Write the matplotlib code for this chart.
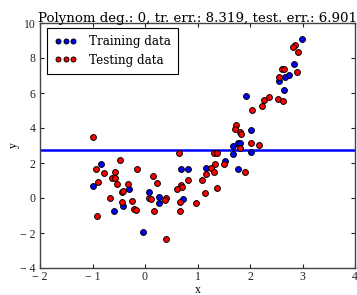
import numpy as np
import matplotlib
matplotlib.use("Agg")
import matplotlib.pyplot as plt

plt.rcParams['font.family'] = ['Liberation Serif', 'DejaVu Serif']

train_x = [-0.84, -1.00, -0.31, 0.07, 0.27, 0.26, -0.41, -0.60, -0.04, 0.73,
           0.69, 0.81, 1.52, 1.17, 1.68, 1.68, 1.77, 1.80, 1.77, 2.02,
           2.02, 1.93, 2.65, 2.55, 2.67, 2.74, 2.83, 2.99]
train_y = [1.94, 0.69, 0.50, 0.33, 0.08, -0.30, -0.46, -0.76, -1.92, -0.04,
           1.64, 1.64, 2.11, 1.73, 2.97, 2.53, 3.12, 3.14, 1.66, 2.65,
           3.87, 5.81, 6.17, 6.69, 6.91, 7.05, 7.66, 9.09]

test_x = [-0.985, -0.93, -0.79, -0.476, -0.58, -0.147, -0.63, -0.58, -0.89, -0.54,
          -0.33, 0.16, 0.22, -0.44, -0.41, -0.66, 0.076, 0.12, -0.43, -0.25,
          -0.21, -0.17, 0.18, -0.92, 0.40, 0.39, 0.67, 1.15, 0.98, 0.67,
          0.40, 0.65, 1.32, 1.37, 1.50, 1.33, 1.26, 1.32, 1.16, 1.08,
          0.81, 0.68, 0.70, 0.60, 1.38, 1.80, 1.91, 2.02, 2.18, 1.74,
          1.71, 1.81, 1.82, 2.03, 2.23, 2.26, 2.37, 2.54, 2.62, 2.60,
          2.65, 2.55, 2.90, 2.86, 2.81, 2.91]
test_y = [3.50, 1.68, 1.45, 2.17, 1.47, 1.64, 1.14, 1.13, 0.90, 0.78,
          0.80, 1.28, 0.87, 0.33, 0.42, -0.02, 0.00, -0.04, -0.21, -0.19,
          -0.63, -0.69, -0.77, -1.03, 0.02, -0.11, -0.23, 0.30, -0.30, -0.76,
          -2.32, 2.56, 2.57, 2.57, 1.92, 1.94, 1.69, 1.47, 1.37, 1.01,
          1.01, 0.72, 0.65, 0.53, 0.59, 2.84, 1.50, 3.12, 3.03, 4.19,
          3.94, 3.75, 3.66, 5.05, 5.26, 5.58, 5.77, 5.66, 5.54, 7.35,
          7.35, 6.90, 7.18, 8.76, 8.61, 8.32]

degree = 0
title_text = "Polynom deg.: 0, tr. err.: 8.319, test. err.: 6.901"
x_ticks = [-2, -1, 0, 1, 2, 3, 4]
y_ticks = [-4, -2, 0, 2, 4, 6, 8, 10]

def lab(v):
    return ("\u2212 %d" % -v) if v < 0 else "%d" % v

W, H = 357, 295
fig = plt.figure(figsize=(W/100, H/100), dpi=100)
ax = fig.add_axes([40/W, 27/H, 315/W, 245/H])

coef = np.polyfit(train_x, train_y, degree)
xs = np.linspace(-2, 4, 50)
ax.plot(xs, np.polyval(coef, xs), color='#0000ff', lw=1.8, zorder=2)

mk = dict(marker='o', ls='none', markersize=4.2, markeredgecolor='black', markeredgewidth=0.7, zorder=3)
ax.plot(train_x, train_y, color='#0000ff', markerfacecolor='#0000ff', label='Training data', **mk)
ax.plot(test_x, test_y, color='#ff0000', markerfacecolor='#ff0000', label='Testing data', **mk)

ax.set_xlim(-2, 4)
ax.set_ylim(-4, 10)
ax.set_xticks(x_ticks)
ax.set_xticklabels([lab(v) for v in x_ticks])
ax.set_yticks(y_ticks)
ax.set_yticklabels([lab(v) for v in y_ticks])
ax.tick_params(direction='in', top=True, right=True, length=3, width=0.8, labelsize=8.5, pad=2, colors='#222222')
ax.tick_params(axis='y', pad=3)
for s in ax.spines.values():
    s.set_color('#444444')
    s.set_linewidth(1.0)
ax.set_xlabel('x', fontsize=8.5, labelpad=1)
ax.set_ylabel('y', fontsize=8.5, labelpad=0.5)
ax.set_title(title_text, fontsize=9.6, pad=0.5, family=['DejaVu Serif'])

leg = ax.legend(loc='upper left', bbox_to_anchor=(7/315, 1 - 5/245), borderaxespad=0,
                numpoints=3, markerscale=0.85, fancybox=False, framealpha=1, edgecolor='black',
                prop={'family': ['DejaVu Serif'], 'size': 8.6},
                handlelength=1.9, handletextpad=1.0, borderpad=0.6,
                labelspacing=0.45)
leg.get_frame().set_linewidth(0.8)

fig.savefig('out.png', dpi=100)
